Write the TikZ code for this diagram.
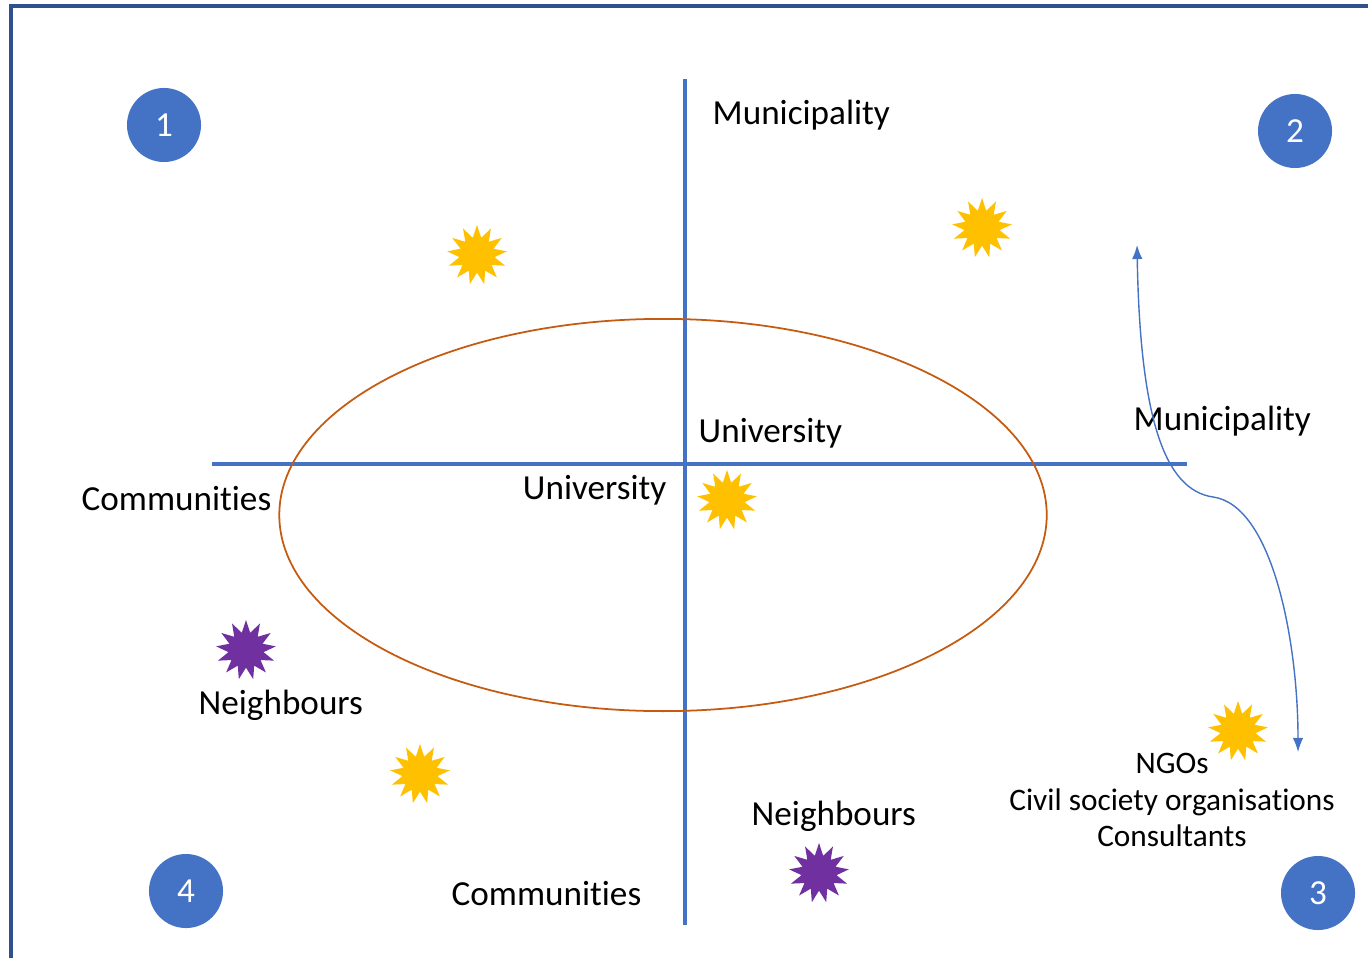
\documentclass[tikz,border=0pt]{standalone}
\usepackage{fontspec}
\setmainfont{Carlito}[Ligatures={NoCommon}]
\usepackage{tikz}
\usetikzlibrary{shapes,
                arrows,
                arrows.meta,
                positioning}
\definecolor{axisblue}{RGB}{68,114,196}
\definecolor{frameblue}{RGB}{47,82,143}
\definecolor{ringorange}{RGB}{197,90,17}
\definecolor{sunyellow}{RGB}{255,192,0}
\definecolor{burstpurple}{RGB}{112,48,160}
\tikzset{axis/.style =
   {draw=axisblue,
    line width=1.1pt}}
\tikzset{frame/.style =
   {draw=frameblue,
    line width=1.2pt}}
\tikzset{quadrant/.style =
   {circle,
    fill=axisblue,
    text=white,
    inner sep=0pt,
    minimum size=0.74cm,
    font=\fontsize{10}{12}\selectfont}}
\tikzset{burst/.style =
   {star,
    star points=13,
    star point ratio=1.7,
    inner sep=0pt,
    minimum size=0.6cm}}
\tikzset{actor/.style =
   {font=\fontsize{10}{12}\selectfont,
    inner sep=0pt}}
\tikzset{arrow/.style = {draw=axisblue, line width=0.4pt, {Latex[length=4pt,width=3pt]}-{Latex[length=4pt,width=3pt]}}}

\begin{document}
\begin{tikzpicture}[x=0.01cm, y=-0.01cm]

    \useasboundingbox (0,0) rectangle (1368,958);

    % frame
    \coordinate (frameR) at (1368,6);
    \coordinate (frameC) at (11,6);
    \coordinate (frameB) at (11,958);
    \draw [frame] (frameR) -- (frameC) -- (frameB);

    % axes
    \coordinate (vtop) at (685,79);
    \coordinate (vbot) at (685,925);
    \coordinate (hleft) at (212,464);
    \coordinate (hright) at (1187,464);
    \draw [axis] (vtop) -- (vbot);
    \draw [axis] (hleft) -- (hright);

    % ring
    \draw [ringorange, line width=0.5pt] (663,515) ellipse [x radius=3.835cm, y radius=1.96cm];

    % quadrants
    \node [quadrant] (q1) at (164,125) {1};
    \node [quadrant] (q2) at (1295,131) {2};
    \node [quadrant] (q3) at (1318,893) {3};
    \node [quadrant] (q4) at (186,891) {4};

    % stars
    \node [burst, fill=sunyellow] (sun1) at (477,255) {};
    \node [burst, fill=sunyellow] (sun2) at (982,228) {};
    \node [burst, fill=sunyellow] (sun3) at (727,500) {};
    \node [burst, fill=sunyellow] (sun4) at (420,774) {};
    \node [burst, fill=sunyellow] (sun5) at (1238,731) {};
    \node [burst, fill=burstpurple] (nb1) at (246,650) {};
    \node [burst, fill=burstpurple] (nb2) at (819,873) {};

    % labels
    \node [actor, anchor=west] (muniTop) at (712,115) {Municipality};
    \node [actor, anchor=west] (uniTop) at (698,433) {University};
    \node [actor, anchor=east] (uniLow) at (667,490) {University};
    \node [actor, anchor=west] (commLeft) at (81,499) {Communities};
    \node [actor, anchor=west] (muniRight) at (1133,421) {Municipality};
    \node [actor, anchor=west] (neighLeft) at (198,705) {Neighbours};
    \node [actor, anchor=west] (neighLow) at (751,816) {Neighbours};
    \node [actor, anchor=west] (commLow) at (451,894) {Communities};
    \node [actor,
           align=center,
           font=\fontsize{8.9}{10.5}\selectfont] (others) at (1172,800)
    {NGOs\\Civil society organisations\\Consultants};

    % exchange
    \coordinate (exTop) at (1137,245);
    \coordinate (exBot) at (1298,752);
    \draw [arrow] (exTop) .. controls (1140,420) and (1165,490) .. (1213,497)
                  .. controls (1272,505) and (1298,640) .. (exBot);

\end{tikzpicture}
\end{document}
